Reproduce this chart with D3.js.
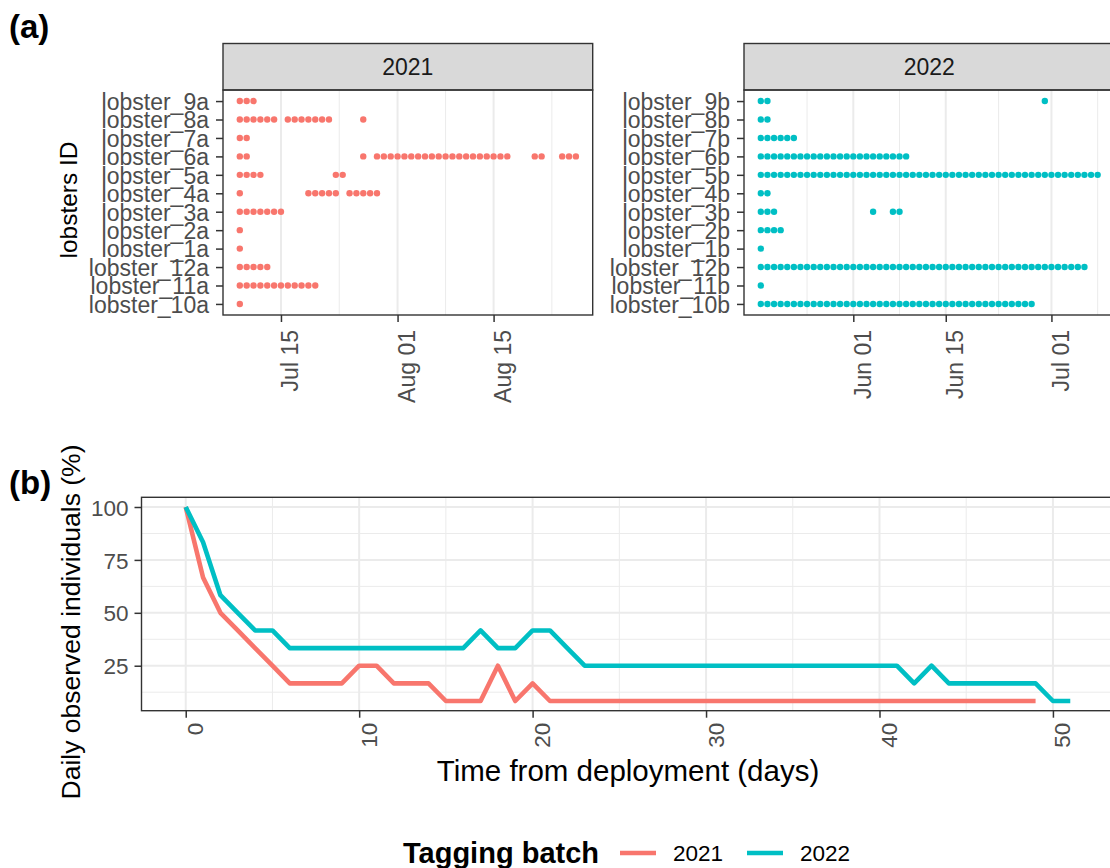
<!DOCTYPE html>
<html>
<head>
<meta charset="utf-8">
<script src="https://cdn.jsdelivr.net/npm/d3@7"></script>
<style>
  body { margin: 0; background: #ffffff; }
  svg { display: block; font-family: "Liberation Sans", Arial, Helvetica, sans-serif; }
</style>
</head>
<body>
<svg id="chart" width="1110" height="868"></svg>
<script>
// ---------------- data ----------------
const batches = ["2021", "2022"];
const batchColors = ["#F8766D", "#00BFC4"];

// (a) detection days per lobster, counted from the tagging date of each batch
const tagDate2021 = "2021-07-09";
const lobsters2021 = ["lobster_9a", "lobster_8a", "lobster_7a", "lobster_6a", "lobster_5a", "lobster_4a",
                      "lobster_3a", "lobster_2a", "lobster_1a", "lobster_12a", "lobster_11a", "lobster_10a"];
const detections2021 = [
  [0, 1, 2],
  [0, 1, 2, 3, 4, 5, 7, 8, 9, 10, 11, 12, 13, 18],
  [0, 1],
  [0, 1, 18, 20, 21, 22, 23, 24, 25, 26, 27, 28, 29, 30, 31, 32, 33, 34, 35, 36, 37, 38, 39, 43, 44, 47, 48, 49],
  [0, 1, 2, 3, 14, 15],
  [0, 10, 11, 12, 13, 14, 16, 17, 18, 19, 20],
  [0, 1, 2, 3, 4, 5, 6],
  [0],
  [0],
  [0, 1, 2, 3, 4],
  [0, 1, 2, 3, 4, 5, 6, 7, 8, 9, 10, 11],
  [0]
];
const dateTicks2021 = ["2021-07-15", "2021-08-01", "2021-08-15"];

const tagDate2022 = "2022-05-18";
const lobsters2022 = ["lobster_9b", "lobster_8b", "lobster_7b", "lobster_6b", "lobster_5b", "lobster_4b",
                      "lobster_3b", "lobster_2b", "lobster_1b", "lobster_12b", "lobster_11b", "lobster_10b"];
const detections2022 = [
  [0, 1, 43],
  [0, 1],
  [0, 1, 2, 3, 4, 5],
  [0, 1, 2, 3, 4, 5, 6, 7, 8, 9, 10, 11, 12, 13, 14, 15, 16, 17, 18, 19, 20, 21, 22],
  [0, 1, 2, 3, 4, 5, 6, 7, 8, 9, 10, 11, 12, 13, 14, 15, 16, 17, 18, 19, 20, 21, 22, 23, 24, 25,
   26, 27, 28, 29, 30, 31, 32, 33, 34, 35, 36, 37, 38, 39, 40, 41, 42, 43, 44, 45, 46, 47, 48, 49, 50, 51],
  [0, 1],
  [0, 1, 2, 17, 20, 21],
  [0, 1, 2, 3],
  [0],
  [0, 1, 2, 3, 4, 5, 6, 7, 8, 9, 10, 11, 12, 13, 14, 15, 16, 17, 18, 19, 20, 21, 22, 23, 24, 25,
   26, 27, 28, 29, 30, 31, 32, 33, 34, 35, 36, 37, 38, 39, 40, 41, 42, 43, 44, 45, 46, 47, 48, 49],
  [0],
  [0, 1, 2, 3, 4, 5, 6, 7, 8, 9, 10, 11, 12, 13, 14, 15, 16, 17, 18, 19, 20, 21, 22, 23, 24, 25,
   26, 27, 28, 29, 30, 31, 32, 33, 34, 35, 36, 37, 38, 39, 40, 41]
];
const dateTicks2022 = ["2022-06-01", "2022-06-15", "2022-07-01"];

// (b) daily share of tagged individuals detected (%)
const days2021 = [0, 1, 2, 3, 4, 5, 6, 7, 8, 9, 10, 11, 12, 13, 14, 15, 16, 17, 18, 19, 20, 21, 22, 23, 24,
                  25, 26, 27, 28, 29, 30, 31, 32, 33, 34, 35, 36, 37, 38, 39, 43, 44, 47, 48, 49];
const pct2021 = [100, 66.67, 50, 41.67, 33.33, 25, 16.67, 16.67, 16.67, 16.67, 25, 25, 16.67, 16.67, 16.67,
                 8.33, 8.33, 8.33, 25, 8.33, 16.67, 8.33, 8.33, 8.33, 8.33, 8.33, 8.33, 8.33, 8.33, 8.33,
                 8.33, 8.33, 8.33, 8.33, 8.33, 8.33, 8.33, 8.33, 8.33, 8.33, 8.33, 8.33, 8.33, 8.33, 8.33];
const days2022 = [0, 1, 2, 3, 4, 5, 6, 7, 8, 9, 10, 11, 12, 13, 14, 15, 16, 17, 18, 19, 20, 21, 22, 23, 24, 25,
                  26, 27, 28, 29, 30, 31, 32, 33, 34, 35, 36, 37, 38, 39, 40, 41, 42, 43, 44, 45, 46, 47, 48, 49, 50, 51];
const pct2022 = [100, 83.33, 58.33, 50, 41.67, 41.67, 33.33, 33.33, 33.33, 33.33, 33.33, 33.33, 33.33, 33.33,
                 33.33, 33.33, 33.33, 41.67, 33.33, 33.33, 41.67, 41.67, 33.33, 25, 25, 25, 25, 25, 25, 25,
                 25, 25, 25, 25, 25, 25, 25, 25, 25, 25, 25, 25, 16.67, 25, 16.67, 16.67, 16.67, 16.67, 16.67,
                 16.67, 8.33, 8.33];
const dayTicks = [0, 10, 20, 30, 40, 50];
const pctTicks = [25, 50, 75, 100];

// ---------------- style ----------------
const ink = "#333333", axisTextCol = "#4D4D4D", gridCol = "#EBEBEB";
const axisFont = 23, stripFont = 23, titleFont = 29.5, idTitleFont = 24.5, tagFont = 33;
const tickLen = 7;

const svg = d3.select("#chart");
const DAY = 86400000;
const parseDate = s => new Date(s + "T00:00:00Z");

// ggplot-style minor breaks: midpoints of majors, extended one step on each side
function minorBreaks(majors, lo, hi) {
  const step = majors[1] - majors[0];
  const ext = [majors[0] - step, ...majors, majors[majors.length - 1] + step];
  const out = [];
  for (let i = 0; i < ext.length - 1; i++) {
    const m = (ext[i] + ext[i + 1]) / 2;
    if (m > lo && m < hi) out.push(m);
  }
  return out;
}

// ---------------- (a) detection facets ----------------
const panelTop = 90, panelBottom = 315, stripTop = 43.5;

function drawFacet(cfg) {
  const g = svg.append("g");
  const start = parseDate(cfg.tagDate).getTime();
  const maxDay = d3.max(cfg.detections, d => d3.max(d));
  const pad = maxDay * 0.05;
  const x = d3.scaleUtc()
    .domain([new Date(start - pad * DAY), new Date(start + (maxDay + pad) * DAY)])
    .range([cfg.left, cfg.right]);
  const y = d3.scalePoint().domain(cfg.ids).range([panelTop, panelBottom]).padding(0.6);

  const majors = cfg.ticks.map(s => parseDate(s).getTime());
  const dom = x.domain().map(d => d.getTime());
  const minors = minorBreaks(majors, dom[0], dom[1]);

  g.selectAll("line.minor").data(minors).join("line")
    .attr("x1", d => x(new Date(d))).attr("x2", d => x(new Date(d)))
    .attr("y1", panelTop).attr("y2", panelBottom)
    .attr("stroke", gridCol).attr("stroke-width", 1);
  g.selectAll("line.major").data(majors).join("line")
    .attr("x1", d => x(new Date(d))).attr("x2", d => x(new Date(d)))
    .attr("y1", panelTop).attr("y2", panelBottom)
    .attr("stroke", gridCol).attr("stroke-width", 2);

  // detection points
  const pts = [];
  cfg.ids.forEach((id, i) => cfg.detections[i].forEach(dd => pts.push({ id, t: start + dd * DAY })));
  g.selectAll("circle").data(pts).join("circle")
    .attr("cx", d => x(new Date(d.t))).attr("cy", d => y(d.id))
    .attr("r", 3.2).attr("fill", cfg.color);

  // strip
  g.append("rect").attr("x", cfg.left).attr("y", stripTop)
    .attr("width", cfg.right - cfg.left).attr("height", panelTop - stripTop)
    .attr("fill", "#D9D9D9").attr("stroke", ink).attr("stroke-width", 1.4);
  g.append("text").attr("x", (cfg.left + cfg.right) / 2).attr("y", (stripTop + panelTop) / 2 + 8)
    .attr("text-anchor", "middle").attr("font-size", stripFont).attr("fill", "#1A1A1A").text(cfg.label);

  // panel border
  g.append("rect").attr("x", cfg.left).attr("y", panelTop)
    .attr("width", cfg.right - cfg.left).attr("height", panelBottom - panelTop)
    .attr("fill", "none").attr("stroke", ink).attr("stroke-width", 1.4);

  // y axis
  const ya = g.append("g").attr("transform", `translate(${cfg.left},0)`)
    .call(d3.axisLeft(y).tickSize(tickLen).tickPadding(7));
  ya.select(".domain").remove();
  ya.selectAll(".tick line").attr("stroke", ink).attr("stroke-width", 1.5);
  ya.selectAll(".tick text").attr("font-size", axisFont).attr("fill", axisTextCol)
    .attr("font-family", null).attr("dy", "0.36em");

  // x axis with vertical labels
  const xa = g.append("g").attr("transform", `translate(0,${panelBottom})`)
    .call(d3.axisBottom(x).tickValues(majors.map(d => new Date(d))).tickSize(tickLen)
      .tickFormat(d3.utcFormat("%b %d")));
  xa.select(".domain").remove();
  xa.selectAll(".tick line").attr("stroke", ink).attr("stroke-width", 1.5);
  xa.selectAll(".tick text").attr("font-size", axisFont).attr("fill", axisTextCol).attr("font-family", null)
    .attr("transform", "rotate(-90)").attr("text-anchor", "end")
    .attr("x", -(tickLen + 8)).attr("y", 17).attr("dy", null);
}

drawFacet({ left: 223, right: 592.7, ids: lobsters2021, detections: detections2021,
            tagDate: tagDate2021, ticks: dateTicks2021, color: batchColors[0], label: batches[0] });
drawFacet({ left: 744, right: 1114.5, ids: lobsters2022, detections: detections2022,
            tagDate: tagDate2022, ticks: dateTicks2022, color: batchColors[1], label: batches[1] });

svg.append("text").attr("transform", "translate(77,200) rotate(-90)")
  .attr("text-anchor", "middle").attr("font-size", idTitleFont).attr("fill", "#000").text("lobsters ID");
svg.append("text").attr("x", 9).attr("y", 38).attr("font-size", tagFont).attr("font-weight", "bold")
  .attr("fill", "#000").text("(a)");

// ---------------- (b) daily observed individuals ----------------
const bLeft = 141.5, bRight = 1114.5, bTop = 497.3, bBottom = 710.7;
const series = [
  { name: batches[0], days: days2021, pct: pct2021, color: batchColors[0] },
  { name: batches[1], days: days2022, pct: pct2022, color: batchColors[1] }
];
const allDays = series.flatMap(s => s.days), allPct = series.flatMap(s => s.pct);
const dx = d3.extent(allDays), dy = d3.extent(allPct);
const px = (dx[1] - dx[0]) * 0.05, py = (dy[1] - dy[0]) * 0.05;
const xb = d3.scaleLinear().domain([dx[0] - px, dx[1] + px]).range([bLeft, bRight]);
const yb = d3.scaleLinear().domain([dy[0] - py, dy[1] + py]).range([bBottom, bTop]);

const gb = svg.append("g");
const xMin = minorBreaks(dayTicks, xb.domain()[0], xb.domain()[1]);
const yMin = minorBreaks(pctTicks, yb.domain()[0], yb.domain()[1]);
gb.selectAll("line.ym").data(yMin).join("line")
  .attr("x1", bLeft).attr("x2", bRight).attr("y1", d => yb(d)).attr("y2", d => yb(d))
  .attr("stroke", gridCol).attr("stroke-width", 1);
gb.selectAll("line.xm").data(xMin).join("line")
  .attr("y1", bTop).attr("y2", bBottom).attr("x1", d => xb(d)).attr("x2", d => xb(d))
  .attr("stroke", gridCol).attr("stroke-width", 1);
gb.selectAll("line.yM").data(pctTicks).join("line")
  .attr("x1", bLeft).attr("x2", bRight).attr("y1", d => yb(d)).attr("y2", d => yb(d))
  .attr("stroke", gridCol).attr("stroke-width", 2);
gb.selectAll("line.xM").data(dayTicks).join("line")
  .attr("y1", bTop).attr("y2", bBottom).attr("x1", d => xb(d)).attr("x2", d => xb(d))
  .attr("stroke", gridCol).attr("stroke-width", 2);

const line = d3.line().x(d => xb(d[0])).y(d => yb(d[1]));
series.forEach(s => {
  gb.append("path").datum(s.days.map((d, i) => [d, s.pct[i]]))
    .attr("d", line).attr("fill", "none").attr("stroke", s.color)
    .attr("stroke-width", 4.6).attr("stroke-linejoin", "round");
});

gb.append("rect").attr("x", bLeft).attr("y", bTop).attr("width", bRight - bLeft).attr("height", bBottom - bTop)
  .attr("fill", "none").attr("stroke", ink).attr("stroke-width", 1.4);

const yAx = gb.append("g").attr("transform", `translate(${bLeft},0)`)
  .call(d3.axisLeft(yb).tickValues(pctTicks).tickSize(tickLen).tickPadding(6));
yAx.select(".domain").remove();
yAx.selectAll(".tick line").attr("stroke", ink).attr("stroke-width", 1.5);
yAx.selectAll(".tick text").attr("font-size", 22.5).attr("fill", axisTextCol)
  .attr("font-family", null).attr("dy", "0.36em");

const xAx = gb.append("g").attr("transform", `translate(0,${bBottom})`)
  .call(d3.axisBottom(xb).tickValues(dayTicks).tickSize(tickLen));
xAx.select(".domain").remove();
xAx.selectAll(".tick line").attr("stroke", ink).attr("stroke-width", 1.5);
xAx.selectAll(".tick text").attr("font-size", 22.5).attr("fill", axisTextCol).attr("font-family", null)
  .attr("transform", "rotate(-90)").attr("text-anchor", "end")
  .attr("x", -(tickLen + 5)).attr("y", 17).attr("dy", null);

svg.append("text").attr("x", (bLeft + bRight) / 2).attr("y", 781)
  .attr("text-anchor", "middle").attr("font-size", titleFont).attr("fill", "#000")
  .text("Time from deployment (days)");
svg.append("text").attr("transform", "translate(80,622) rotate(-90)")
  .attr("text-anchor", "middle").attr("font-size", 26.5).attr("fill", "#000")
  .text("Daily observed individuals (%)");
svg.append("text").attr("x", 9).attr("y", 494).attr("font-size", tagFont).attr("font-weight", "bold")
  .attr("fill", "#000").text("(b)");

// ---------------- legend ----------------
const lg = svg.append("g").attr("transform", "translate(0,853)");
lg.append("text").attr("x", 403).attr("y", 10).attr("font-size", 29).attr("font-weight", "bold")
  .attr("fill", "#000").text("Tagging batch");
const keyX = [620, 747];
series.forEach((s, i) => {
  lg.append("line").attr("x1", keyX[i]).attr("x2", keyX[i] + 36).attr("y1", 0).attr("y2", 0)
    .attr("stroke", s.color).attr("stroke-width", 4.6);
  lg.append("text").attr("x", keyX[i] + 53).attr("y", 8).attr("font-size", 22.5)
    .attr("fill", "#000").text(s.name);
});
</script>
</body>
</html>
